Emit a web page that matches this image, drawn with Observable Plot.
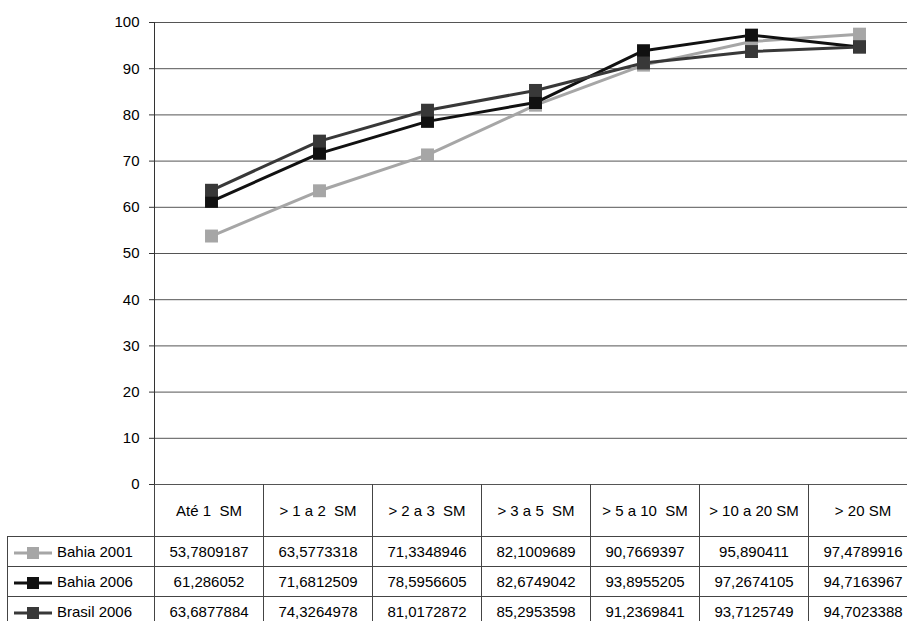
<!DOCTYPE html>
<html>
<head>
<meta charset="utf-8">
<script src="https://cdn.jsdelivr.net/npm/d3@7"></script>
<script src="https://cdn.jsdelivr.net/npm/@observablehq/plot@0.6"></script>
<style>
  html, body { margin: 0; padding: 0; background: #fff; }
  body { width: 907px; height: 621px; position: relative; overflow: hidden; font-family: "Liberation Sans", Arial, sans-serif; }
  #chart { position: absolute; left: 0; top: 0; }
  #tbl { position: absolute; left: 7px; top: 484px; width: 910px; border-collapse: collapse; font-size: 15px; color: #000; table-layout: fixed; }
  #tbl td { border: 1px solid #444; padding: 0; text-align: center; white-space: pre; overflow: hidden; }
  #tbl tr.hdr td { height: 52px; border-top: none; }
  #tbl tr.hdr td.blank { border-left: none; border-top: none; background: transparent; }
  #tbl tr.row td { height: 29px; }
  #tbl td.lab { text-align: left; padding-left: 6px; }
  #tbl td.lab svg { vertical-align: middle; margin-right: 5px; }
</style>
</head>
<body>
<div id="chart"></div>
<table id="tbl"></table>
<script>
const categories = ["Até 1  SM", "> 1 a 2  SM", "> 2 a 3  SM", "> 3 a 5  SM", "> 5 a 10  SM", "> 10 a 20 SM", "> 20 SM"];
const seriesNames = ["Bahia 2001", "Bahia 2006", "Brasil 2006"];
const bahia2001 = [53.7809187, 63.5773318, 71.3348946, 82.1009689, 90.7669397, 95.890411, 97.4789916];
const bahia2006 = [61.286052, 71.6812509, 78.5956605, 82.6749042, 93.8955205, 97.2674105, 94.7163967];
const brasil2006 = [63.6877884, 74.3264978, 81.0172872, 85.2953598, 91.2369841, 93.7125749, 94.7023388];
const seriesColors = ["#a6a6a6", "#111111", "#383838"];
const yTicks = [0, 10, 20, 30, 40, 50, 60, 70, 80, 90, 100];

const allSeries = [bahia2001, bahia2006, brasil2006];
const data = [];
allSeries.forEach((vals, s) => vals.forEach((v, i) => data.push({series: seriesNames[s], cat: categories[i], value: v})));

const plot = Plot.plot({
  width: 907,
  height: 500,
  marginTop: 22,
  marginBottom: 16,
  marginLeft: 154,
  marginRight: 0,
  style: {fontFamily: "'Liberation Sans', Arial, sans-serif", fontSize: "15px", color: "#000", background: "transparent"},
  x: {type: "point", domain: categories, range: [154, 915], padding: 0.5, axis: null},
  y: {domain: [0, 100], range: [484, 22], axis: null},
  color: {domain: seriesNames, range: seriesColors},
  marks: [
    Plot.ruleY(yTicks, {stroke: "#555", strokeWidth: 1}),
    Plot.axisY({ticks: yTicks, tickSize: 5, tickPadding: 10, stroke: "#333", label: null, tickFormat: d => String(d)}),
    Plot.frame({anchor: "left", stroke: "#333"}),
    Plot.line(data, {x: "cat", y: "value", z: "series", stroke: "series", strokeWidth: 3}),
    Plot.dot(data, {x: "cat", y: "value", fill: "series", symbol: "square", r: 7.3, stroke: null})
  ]
});
document.getElementById("chart").appendChild(plot);

// data table below the chart
const tbl = document.getElementById("tbl");
const colgroup = document.createElement("colgroup");
[147, ...categories.map(() => 109)].forEach(w => {
  const c = document.createElement("col");
  c.style.width = w + "px";
  colgroup.appendChild(c);
});
tbl.appendChild(colgroup);

const hdr = document.createElement("tr");
hdr.className = "hdr";
const blank = document.createElement("td");
blank.className = "blank";
hdr.appendChild(blank);
categories.forEach(c => {
  const td = document.createElement("td");
  td.textContent = c;
  hdr.appendChild(td);
});
tbl.appendChild(hdr);

const fmt = v => String(v).replace(".", ",");
allSeries.forEach((vals, s) => {
  const tr = document.createElement("tr");
  tr.className = "row";
  const lab = document.createElement("td");
  lab.className = "lab";
  const col = seriesColors[s];
  lab.innerHTML = `<svg width="38" height="14"><line x1="0" x2="38" y1="7" y2="7" stroke="${col}" stroke-width="3"/><rect x="13" y="1" width="12" height="12" fill="${col}"/></svg>` + seriesNames[s];
  tr.appendChild(lab);
  vals.forEach(v => {
    const td = document.createElement("td");
    td.textContent = fmt(v);
    tr.appendChild(td);
  });
  tbl.appendChild(tr);
});
</script>
</body>
</html>
